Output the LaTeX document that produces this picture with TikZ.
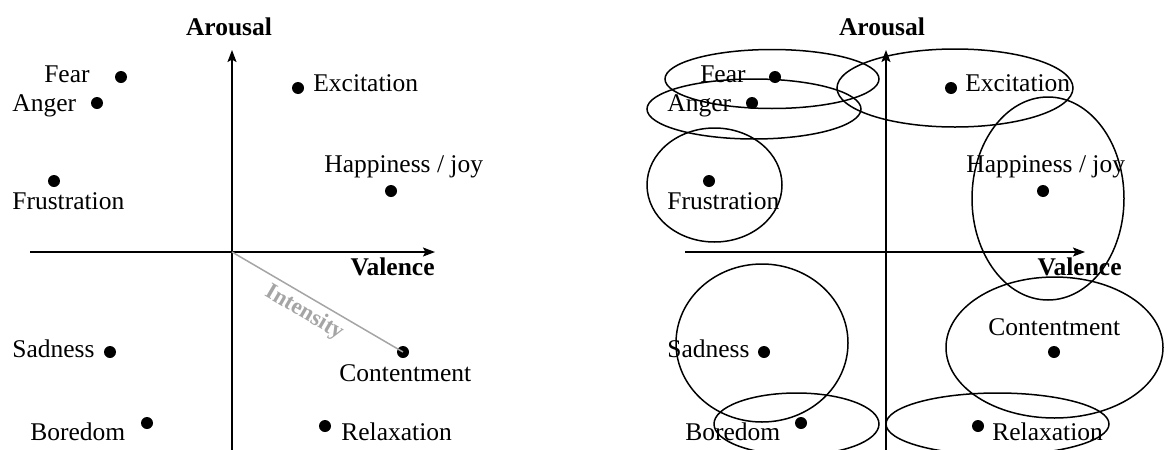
\documentclass[tikz,border=0pt]{standalone}
\usepackage{fontspec}
\setmainfont{Liberation Serif}
\usetikzlibrary{arrows.meta}
\definecolor{intens}{RGB}{165,165,165}

\begin{document}
\begin{tikzpicture}[x=0.5pt, y=-0.5pt, >={Stealth[length=6pt,width=4.5pt,inset=1.2pt]},
    dot/.style={circle, fill=black, inner sep=0pt, minimum size=6pt},
    lbl/.style={inner sep=0pt, font=\fontsize{12.75}{15}\selectfont},
    axlbl/.style={inner sep=0pt, font=\fontsize{12.75}{15}\selectfont\bfseries},
    axis/.style={->, line width=0.75pt},
    region/.style={line width=0.75pt}]
    \useasboundingbox (0,0) rectangle (1168,450);

    % ===== Left plane =====
    % Axes
    \coordinate (lo) at (232,252);
    \coordinate (ltop) at (232,50);
    \coordinate (lbot) at (232,450);
    \coordinate (lleft) at (30,252);
    \coordinate (lright) at (435,252);
    \draw[axis] (lbot) -- (ltop);
    \draw[axis] (lleft) -- (lright);
    \node[axlbl, anchor=base] (larousal) at (229,35) {Arousal};
    \node[axlbl, anchor=base east] (lvalence) at (435,275) {Valence};

    % Emotions
    \foreach \n/\x/\y in {lfear/121/77, langer/97/103, lexcit/298/88, lhappy/391/191,
        lfrust/54/181, lsad/110/352, lcontent/403/352, lbored/147/423, lrelax/325/426} {
        \node[dot] (\n) at (\x,\y) {};
    }
    \node[lbl, anchor=base east] (tlfear) at (90,82) {Fear};
    \node[lbl, anchor=base west] (tlanger) at (12,111) {Anger};
    \node[lbl, anchor=base west] (tlexcit) at (313,91) {Excitation};
    \node[lbl, anchor=base west] (tlhappy) at (324,172) {Happiness / joy};
    \node[lbl, anchor=base west] (tlfrust) at (12,209) {Frustration};
    \node[lbl, anchor=base west] (tlsad) at (12,357) {Sadness};
    \node[lbl, anchor=base west] (tlcontent) at (339,381) {Contentment};
    \node[lbl, anchor=base west] (tlbored) at (30,440) {Boredom};
    \node[lbl, anchor=base west] (tlrelax) at (341,440) {Relaxation};

    % Intensity
    \draw[intens, line width=0.75pt] (lo) -- node[sloped, below, pos=0.47, inner sep=2.5pt,
        font=\fontsize{11.5}{13}\selectfont\bfseries] (tint) {Intensity} (lcontent.center);

    % ===== Right plane =====
    % Axes
    \coordinate (ro) at (886,252);
    \coordinate (rtop) at (886,50);
    \coordinate (rbot) at (886,450);
    \coordinate (rleft) at (685,252);
    \coordinate (rright) at (1085,252);
    \draw[axis] (rbot) -- (rtop);
    \draw[axis] (rleft) -- (rright);
    \node[axlbl, anchor=base] (rarousal) at (882,35) {Arousal};
    \node[axlbl, anchor=base east] (rvalence) at (1122,275) {Valence};

    % Emotions
    \foreach \n/\x/\y in {rfear/775/77, ranger/752/103, rexcit/951/88, rhappy/1043/191,
        rfrust/709/181, rsad/764/352, rcontent/1054/352, rbored/801/423, rrelax/978/426} {
        \node[dot] (\n) at (\x,\y) {};
    }
    \node[lbl, anchor=base east] (trfear) at (746,82) {Fear};
    \node[lbl, anchor=base west] (tranger) at (667,111) {Anger};
    \node[lbl, anchor=base west] (trexcit) at (965,91) {Excitation};
    \node[lbl, anchor=base west] (trhappy) at (966,172) {Happiness / joy};
    \node[lbl, anchor=base west] (trfrust) at (667,209) {Frustration};
    \node[lbl, anchor=base west] (trsad) at (667,357) {Sadness};
    \node[lbl, anchor=base west] (trcontent) at (988,335) {Contentment};
    \node[lbl, anchor=base west] (trbored) at (685,440) {Boredom};
    \node[lbl, anchor=base west] (trrelax) at (992,440) {Relaxation};

    % Regions
    \foreach \x/\y/\a/\b in {772/79/107/29.5, 754/109/107/30, 955/88/118/39,
        714.5/185/67.5/57, 1048/198.5/76/101.5, 762/343/86/79,
        1054.5/347.5/108.5/70.5, 796.5/424/82.5/31, 997.5/424/111.5/31} {
        \draw[region] (\x,\y) ellipse [x radius=\a, y radius=\b];
    }
\end{tikzpicture}
\end{document}
